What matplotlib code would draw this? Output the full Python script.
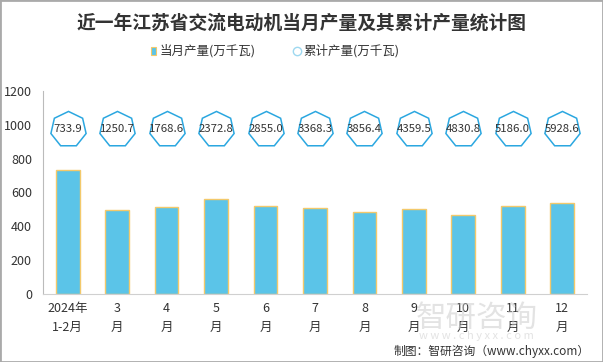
import matplotlib.pyplot as plt
import numpy as np

plt.rcParams['font.family'] = ['Noto Sans CJK SC', 'DejaVu Sans']

# data
months = ['2024年\n1-2月', '3\n月', '4\n月', '5\n月', '6\n月', '7\n月',
          '8\n月', '9\n月', '10\n月', '11\n月', '12\n月']
monthly = [733.9, 495, 513, 560, 519, 507, 483, 501, 466, 519, 537]
cumulative = [733.9, 1250.7, 1768.6, 2372.8, 2855.0, 3368.3, 3856.4,
              4359.5, 4830.8, 5186.0, 5928.6]

bar_color = '#5BC4E8'
bar_edge = '#F3C96B'
hept_color = '#2BA7E0'

fig = plt.figure(figsize=(6.03, 3.62), dpi=100)
ax = fig.add_axes([0.0713, 0.1878, 0.902, 0.561])

x = np.arange(len(months))
ax.bar(x, monthly, width=0.48, color=bar_color, edgecolor=bar_edge, linewidth=1.0, zorder=2)

# cumulative values shown in heptagons at a fixed height
yc = 975
ax.plot(x, [yc] * len(x), linestyle='none', marker=(7, 0, 0), markersize=26,
        markerfacecolor='white', markeredgecolor=hept_color, markeredgewidth=1.1,
        zorder=3, clip_on=False)
for xi, v in zip(x, cumulative):
    ax.text(xi, yc, '%.1f' % v, ha='center', va='center', fontsize=8.2,
            color='#333333', zorder=4)

ax.set_xlim(-0.5, len(months) - 0.5)
ax.set_ylim(0, 1200)
ax.set_yticks(range(0, 1201, 200))
ax.set_xticks(x)
ax.set_xticklabels(months, fontsize=9, color='#333333', linespacing=1.6)
ax.tick_params(axis='y', labelsize=9, colors='#333333', length=0, pad=8)
ax.tick_params(axis='x', length=0, pad=6)
for s in ['top', 'right']:
    ax.spines[s].set_visible(False)
ax.spines['left'].set_color('#BBBBBB')
ax.spines['bottom'].set_color('#D0D0D0')

fig.text(0.5, 0.935, '近一年江苏省交流电动机当月产量及其累计产量统计图',
         ha='center', va='center', fontsize=13.5, fontweight='bold', color='#333333')

# legend
fig.patches.append(plt.Rectangle((151 / 603, 1 - 55 / 362), 5 / 603, 8 / 362,
                                 transform=fig.transFigure, facecolor=bar_color,
                                 edgecolor=bar_edge, linewidth=0.8))
fig.text(160 / 603, 1 - 51 / 362, '当月产量(万千瓦)', ha='left', va='center',
         fontsize=9, color='#333333')
fig.add_artist(plt.Line2D([297 / 603], [1 - 51 / 362], marker='o', markersize=6,
                          markerfacecolor='white', markeredgecolor='#9ED8F0',
                          transform=fig.transFigure))
fig.text(303 / 603, 1 - 51 / 362, '累计产量(万千瓦)', ha='left', va='center',
         fontsize=9, color='#333333')

# watermark
fig.text(0.79, 1 - 318 / 362, '智研咨询', ha='center', va='center', fontsize=22,
         color='#C8C8C8', alpha=0.5, zorder=0)
fig.text(0.79, 1 - 336 / 362, 'w w w . c h y x x . c o m', ha='center', va='center',
         fontsize=8, color='#C8C8C8', alpha=0.5, zorder=0)

fig.text(0.978, 1 - 351 / 362, '制图：智研咨询（www.chyxx.com）', ha='right',
         va='center', fontsize=8.5, color='#333333')

fig.patches.append(plt.Rectangle((0, 0), 1, 1, transform=fig.transFigure,
                                 fill=False, edgecolor='#AAAAAA', linewidth=2))

fig.savefig('out.png', dpi=100)
